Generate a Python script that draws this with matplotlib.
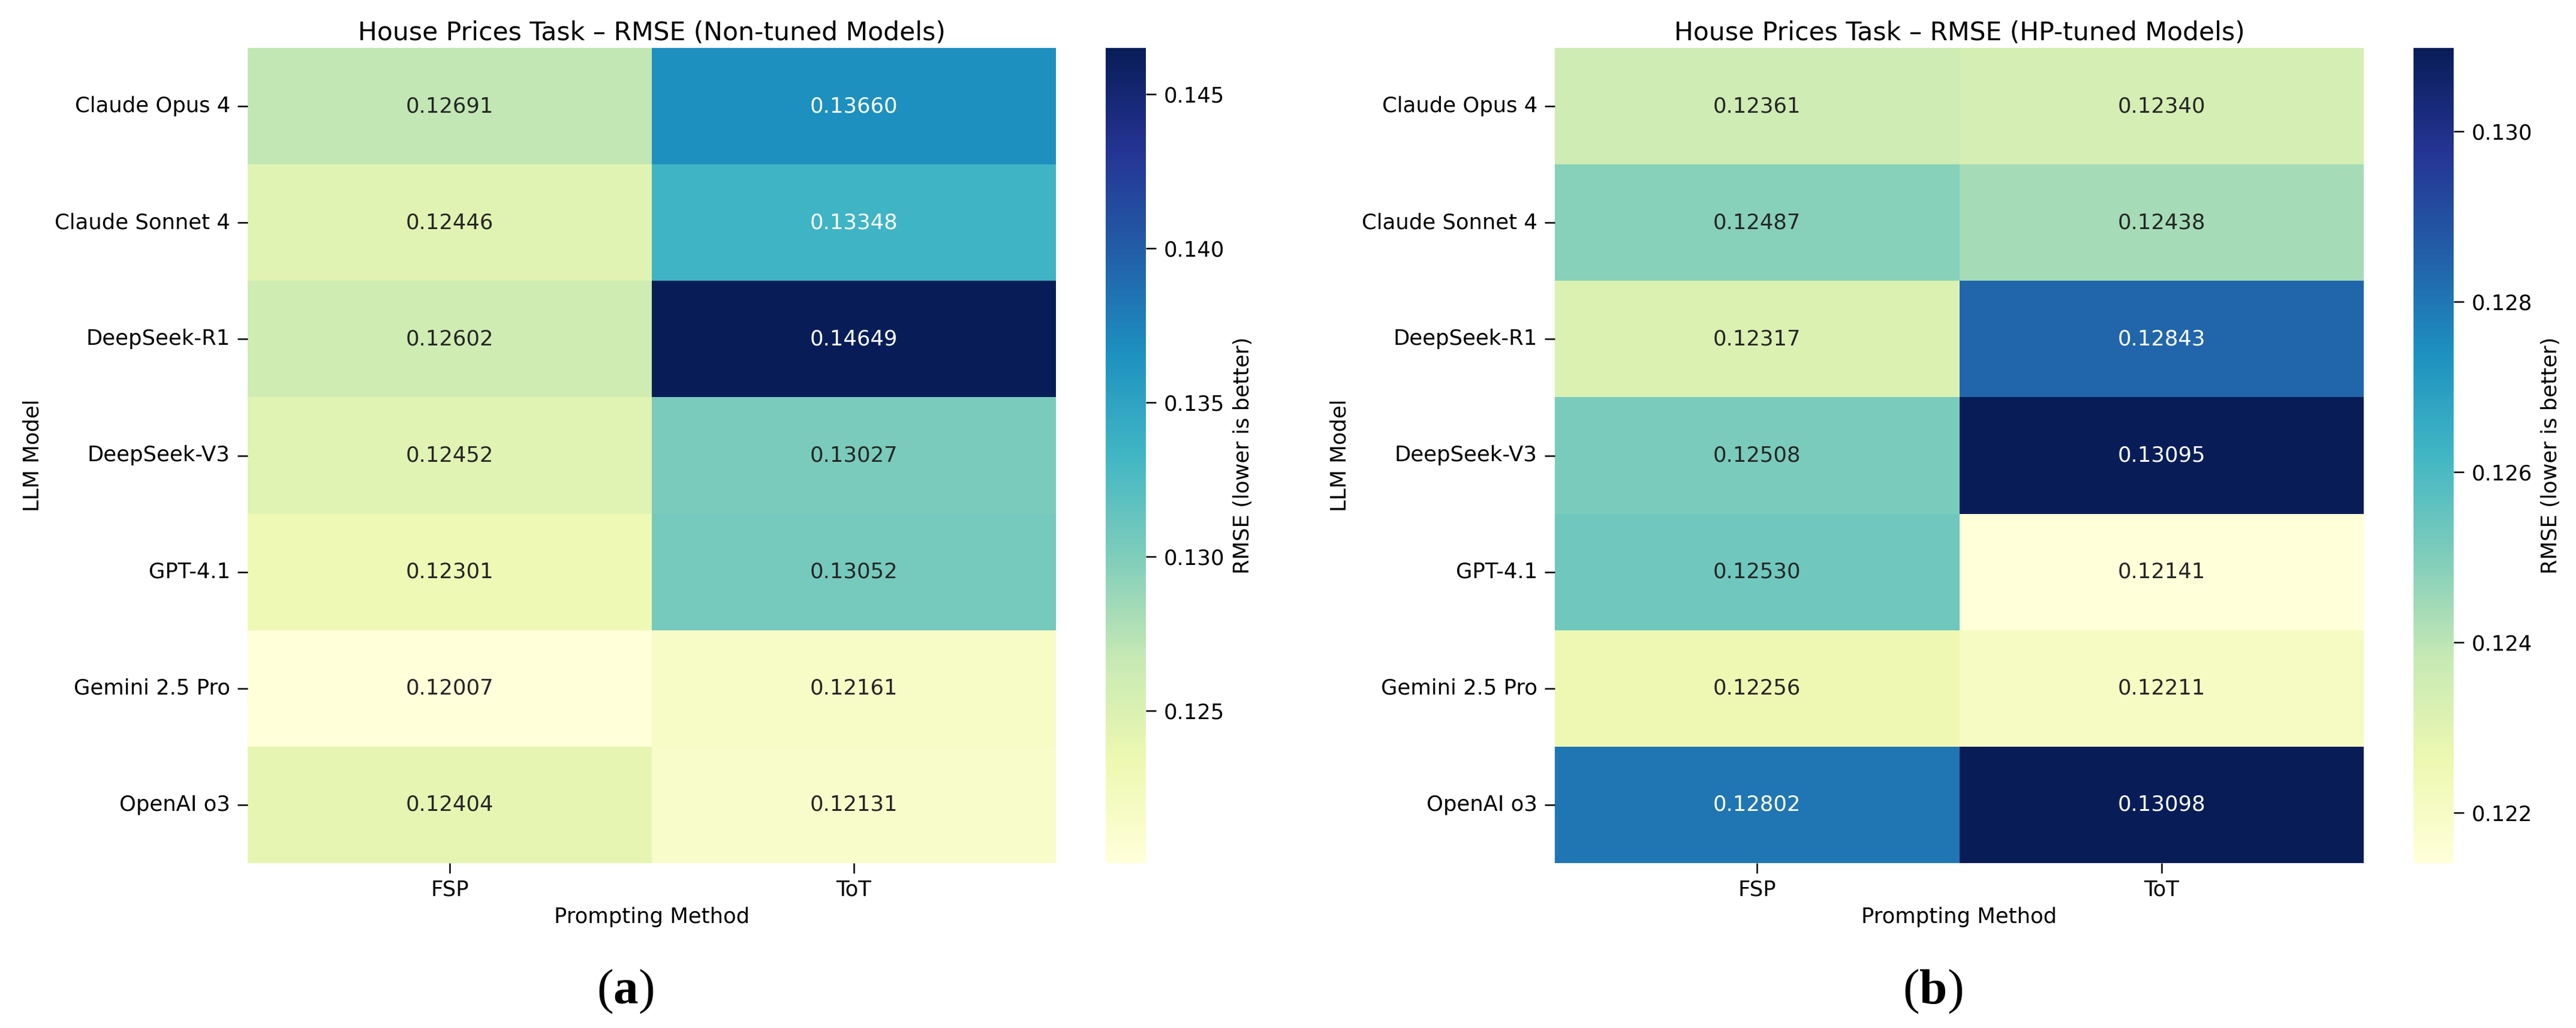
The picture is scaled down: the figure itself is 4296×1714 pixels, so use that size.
import matplotlib
matplotlib.use("Agg")
import matplotlib.pyplot as plt
import numpy as np
import pandas as pd
import seaborn as sns

models = ["Claude Opus 4", "Claude Sonnet 4", "DeepSeek-R1", "DeepSeek-V3",
          "GPT-4.1", "Gemini 2.5 Pro", "OpenAI o3"]
methods = ["FSP", "ToT"]

nontuned_fsp = [0.12691, 0.12446, 0.12602, 0.12452, 0.12301, 0.12007, 0.12404]
nontuned_tot = [0.13660, 0.13348, 0.14649, 0.13027, 0.13052, 0.12161, 0.12131]
tuned_fsp = [0.12361, 0.12487, 0.12317, 0.12508, 0.12530, 0.12256, 0.12802]
tuned_tot = [0.12340, 0.12438, 0.12843, 0.13095, 0.12141, 0.12211, 0.13098]

titles = ["House Prices Task \u2013 RMSE (Non-tuned Models)",
          "House Prices Task \u2013 RMSE (HP-tuned Models)"]
captions = ["a", "b"]

plt.rcParams.update({
    "font.family": ["DejaVu Sans"],
    "font.size": 25.5,
    "xtick.major.size": 12,
    "ytick.major.size": 12,
    "xtick.major.width": 1.8,
    "ytick.major.width": 1.8,
    "xtick.major.pad": 8,
    "ytick.major.pad": 9,
    "mathtext.fontset": "custom",
    "mathtext.rm": "Liberation Serif",
    "mathtext.bf": "Liberation Serif:bold",
})

W, H = 4296, 1714
fig = plt.figure(figsize=(W / 100, H / 100), dpi=100)

def fx(px):
    return px / W

ax_bottom = 1 - 1439 / H
ax_height = (1439 - 80) / H

panels = [
    dict(hx=413, hw=1348, cx=1844, cap_x=1043,
         data=pd.DataFrame({"FSP": nontuned_fsp, "ToT": nontuned_tot}, index=models)),
    dict(hx=2593, hw=1349, cx=4025, cap_x=3223,
         data=pd.DataFrame({"FSP": tuned_fsp, "ToT": tuned_tot}, index=models)),
]

for i, p in enumerate(panels):
    ax = fig.add_axes([fx(p["hx"]), ax_bottom, fx(p["hw"]), ax_height])
    cax = fig.add_axes([fx(p["cx"]), ax_bottom, fx(67), ax_height])
    sns.heatmap(p["data"][methods], ax=ax, cbar_ax=cax, cmap="YlGnBu",
                annot=True, fmt=".5f",
                cbar_kws={"label": "RMSE (lower is better)"})
    ax.set_title(titles[i], pad=9)
    ax.set_xlabel("Prompting Method", labelpad=8)
    ax.set_ylabel("LLM Model", labelpad=14)
    ax.set_yticklabels(ax.get_yticklabels(), rotation=0)
    ax.set_xticklabels(ax.get_xticklabels(), rotation=0)
    cax.set_ylabel("RMSE (lower is better)", fontsize=25.5, labelpad=10)
    fig.text(fx(p["cap_x"]), 1 - 1653 / H, r"($\mathbf{%s}$)" % captions[i],
             ha="center", va="center", fontsize=60, family="Liberation Serif")

fig.savefig("out.png", dpi=100)
